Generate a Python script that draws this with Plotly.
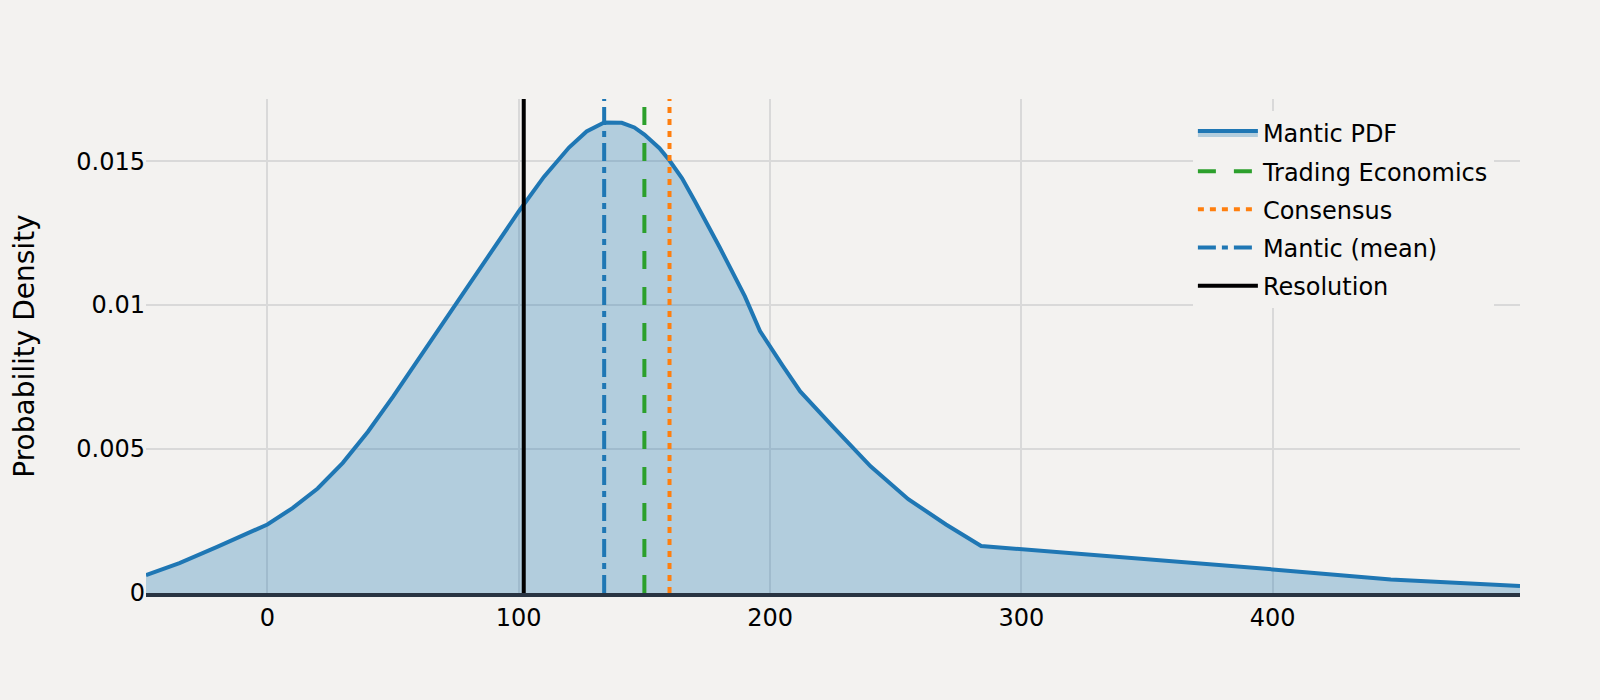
import plotly.graph_objects as go

# Mantic PDF
pdf_x = [-48.3, -35, -20, -10, 0, 10, 20, 30, 40, 50, 60, 70, 80, 90, 100, 110, 120, 127,
         134, 141, 146, 150, 156, 160, 165, 170, 180, 190, 196, 205, 212, 225, 240, 255,
         270, 284, 300, 400, 447, 498.4]
pdf_y = [0.00062, 0.00104, 0.00160, 0.00198, 0.00238, 0.00295, 0.00363, 0.00452, 0.00560,
         0.00682, 0.00811, 0.00942, 0.01072, 0.01200, 0.01325, 0.01445, 0.01547, 0.01603,
         0.01634, 0.01633, 0.01617, 0.01592, 0.01545, 0.01502, 0.01440, 0.01362, 0.01200,
         0.01030, 0.00910, 0.00790, 0.00700, 0.00578, 0.00440, 0.00326, 0.00238, 0.00163,
         0.00152, 0.00082, 0.00047, 0.00024]

# reference lines
ref_names = ["Trading Economics", "Consensus", "Mantic (mean)", "Resolution"]
ref_values = [150, 160, 134, 102]
ref_colors = ["#2ca02c", "#ff7f0e", "#1f77b4", "#000000"]
ref_dashes = ["18px,18px", "6px,6px", "18px,6px,6px,6px", "solid"]

y_tick_vals = [0, 0.005, 0.01, 0.015]
y_tick_text = ["0", "0.005", "0.01", "0.015"]
x_tick_vals = [0, 100, 200, 300, 400]

BG = "#f3f2f0"
FONT = "Verdana, DejaVu Sans, sans-serif"

ymax = max(pdf_y) * 1.05

fig = go.Figure()
fig.add_trace(go.Scatter(
    x=pdf_x, y=pdf_y, mode="lines", name="Mantic PDF", legendgroup="pdf",
    line=dict(color="#1f77b4", width=4),
    fill="tozeroy", fillcolor="rgba(31,119,180,0.3)",
))
for n, v, c, d in zip(ref_names, ref_values, ref_colors, ref_dashes):
    fig.add_trace(go.Scatter(
        x=[v, v], y=[0, ymax], mode="lines", name=n, legendgroup=n,
        line=dict(color=c, width=4, dash=d),
    ))

fig.update_layout(
    width=1600, height=700,
    paper_bgcolor=BG, plot_bgcolor=BG,
    font=dict(family=FONT, size=24, color="#000000"),
    margin=dict(l=146, r=80, t=99, b=107),
    showlegend=True,
    legend=dict(
        x=0.981, y=0.976, xanchor="right", yanchor="top",
        bgcolor=BG, borderwidth=0, itemwidth=60, tracegroupgap=4,
        traceorder="grouped",
        font=dict(family=FONT, size=24, color="#000000"),
    ),
    xaxis=dict(
        range=[min(pdf_x), max(pdf_x)],
        tickvals=x_tick_vals,
        showgrid=True, gridcolor="#d9d9d9", gridwidth=2,
        zeroline=False,
        showline=True, linecolor="#283442", linewidth=4,
        ticks="",
        tickfont=dict(size=24),
    ),
    yaxis=dict(
        range=[0, ymax],
        tickvals=y_tick_vals, ticktext=y_tick_text,
        showgrid=True, gridcolor="#d9d9d9", gridwidth=2,
        zeroline=False,
        ticks="",
        tickfont=dict(size=24),
        title=dict(text="Probability Density", font=dict(size=28), standoff=33),
    ),
)

fig.write_html(
    "out.html",
    config={"displayModeBar": False},
    post_script="document.body.style.margin='0';document.body.style.background='" + BG + "';",
)
